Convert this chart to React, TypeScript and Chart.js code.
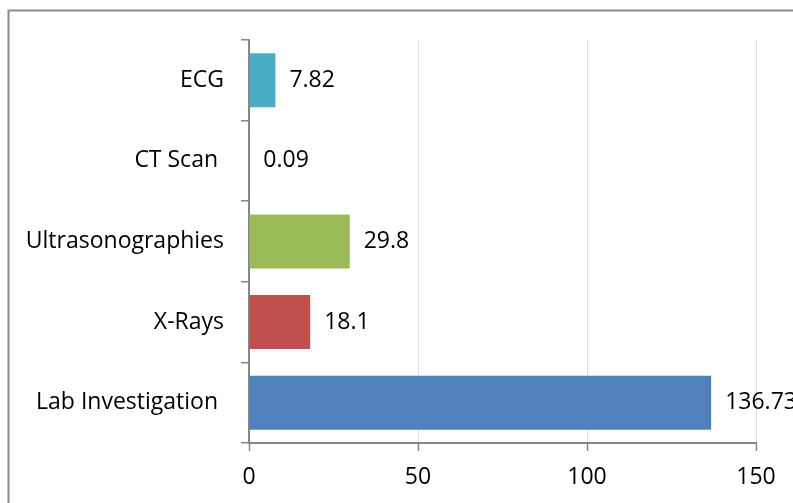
import React, { useEffect, useRef } from "react";
import { Chart, registerables } from "chart.js";

Chart.register(...registerables);

const categories = ["ECG", "CT Scan ", "Ultrasonographies", "X-Rays", "Lab Investigation "];
const values = [7.82, 0.09, 29.8, 18.1, 136.73];
const valueLabels = ["7.82", "0.09", "29.8", "18.1", "136.73"];
const barColors = ["#4BACC6", "#8064A2", "#9BBB59", "#C0504D", "#4F81BD"];
const xTicks = [0, 50, 100, 150];

const FONT = "'Open Sans', 'Noto Sans', sans-serif";
const AXIS_GRAY = "#868686";

const framePlugin = {
  id: "frame",
  beforeDraw(chart: any) {
    const ctx = chart.ctx;
    ctx.save();
    ctx.fillStyle = "#ffffff";
    ctx.fillRect(0, 0, chart.width, chart.height);
    ctx.strokeStyle = "#8a8a8a";
    ctx.lineWidth = 2;
    ctx.strokeRect(8.5, 10.5, chart.width + 50, chart.height + 50);
    ctx.restore();
  },
};

const valueLabelPlugin = {
  id: "valueLabels",
  afterDatasetsDraw(chart: any) {
    const ctx = chart.ctx;
    const meta = chart.getDatasetMeta(0);
    ctx.save();
    ctx.font = `23px ${FONT}`;
    ctx.fillStyle = "#000000";
    ctx.textAlign = "left";
    ctx.textBaseline = "middle";
    meta.data.forEach((bar: any, i: number) => {
      ctx.fillText(valueLabels[i], bar.x + 14, bar.y);
    });
    ctx.restore();
  },
};

export default function App() {
  const ref = useRef<HTMLCanvasElement | null>(null);

  useEffect(() => {
    if (!ref.current) return;
    const chart = new Chart(ref.current, {
      type: "bar",
      data: {
        labels: categories,
        datasets: [
          {
            data: values,
            backgroundColor: barColors,
            borderWidth: 0,
            barPercentage: 0.67,
            categoryPercentage: 1,
          },
        ],
      },
      options: {
        indexAxis: "y",
        responsive: false,
        animation: false,
        devicePixelRatio: 1,
        layout: { padding: { left: 0, right: 37, top: 40, bottom: 0 } },
        plugins: {
          legend: { display: false },
          tooltip: { enabled: false },
          title: { display: false },
        },
        scales: {
          y: {
            type: "category",
            position: "left",
            afterFit(scale: any) {
              scale.width = 249;
            },
            grid: {
              drawOnChartArea: false,
              offset: true,
              color: AXIS_GRAY,
              tickLength: 8,
              lineWidth: 1.5,
            },
            border: { color: AXIS_GRAY, width: 2 },
            ticks: {
              color: "#000000",
              font: { family: FONT, size: 23 },
              padding: 17,
            },
          },
          x: {
            type: "linear",
            min: 0,
            max: 150,
            afterFit(scale: any) {
              scale.height = 60;
            },
            afterBuildTicks(scale: any) {
              scale.ticks = xTicks.map((v) => ({ value: v }));
            },
            grid: {
              color: "#d9e3f0",
              tickColor: AXIS_GRAY,
              tickLength: 8,
              lineWidth: 1,
              tickWidth: 1.5,
            },
            border: { color: AXIS_GRAY, width: 2 },
            ticks: {
              color: "#000000",
              font: { family: FONT, size: 23 },
              padding: 13,
              maxRotation: 0,
            },
          },
        },
      },
      plugins: [framePlugin, valueLabelPlugin],
    } as any);
    return () => chart.destroy();
  }, []);

  return (
    <div style={{ position: "fixed", left: 0, top: 0, width: 793, height: 503 }}>
      <canvas ref={ref} width={793} height={503} style={{ display: "block" }} />
    </div>
  );
}
